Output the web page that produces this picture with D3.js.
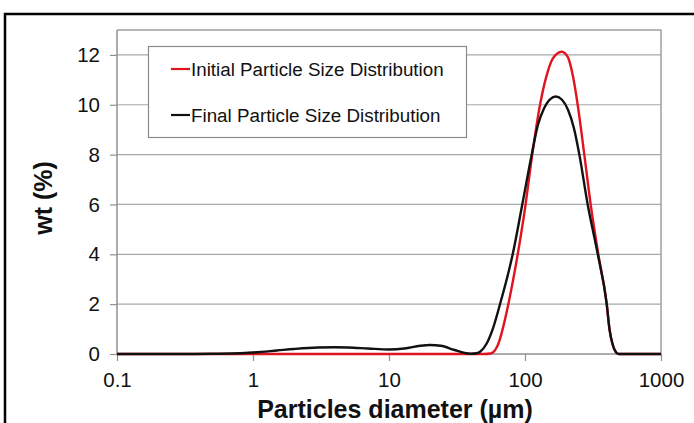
<!DOCTYPE html>
<html><head><meta charset="utf-8">
<script src="https://cdn.jsdelivr.net/npm/d3@7"></script>
<style>body{margin:0;background:#fff}svg{display:block}</style>
</head><body>
<svg id="c" width="694" height="423"></svg>
<script>
const xTicks = [0.1, 1, 10, 100, 1000];
const xTickLabels = ["0.1", "1", "10", "100", "1000"];
const yTicks = [0, 2, 4, 6, 8, 10, 12];
const seriesNames = ["Initial Particle Size Distribution", "Final Particle Size Distribution"];
const initialD = [0.1, 1, 10, 50, 56, 61, 65, 68.5, 75.4, 88.4, 101, 113, 129, 143, 160, 186, 207, 226, 244, 273, 304, 346, 399, 418, 440, 465, 490, 1000];
const initialWt = [0, 0, 0, 0, 0.02, 0.2, 0.55, 1, 2, 4, 6, 8, 10, 11.1, 11.85, 12.13, 11.9, 11.1, 10, 8, 6, 4, 2, 1, 0.4, 0.08, 0, 0];
const finalD = [0.1, 0.3, 0.5, 0.8, 1, 1.5, 2, 3, 4, 5, 7, 10, 13, 17, 20, 24, 30, 36, 40, 44, 47, 52, 57.9, 65.5, 81.2, 95.5, 112, 124.6, 137.9, 152.7, 169, 187.1, 207.1, 229.2, 251, 289, 343, 399, 418, 440, 465, 490, 1000];
const finalWt = [0, 0, 0.01, 0.03, 0.06, 0.14, 0.2, 0.26, 0.27, 0.26, 0.22, 0.18, 0.22, 0.33, 0.36, 0.33, 0.17, 0.04, 0.01, 0.03, 0.1, 0.4, 1, 2, 4, 6, 8, 9.2, 9.85, 10.22, 10.33, 10.2, 9.8, 9.05, 8, 6, 4, 2, 1, 0.4, 0.08, 0, 0];

const svg = d3.select("#c");
const L = 117, R = 661, T = 30, B = 354;
const x = d3.scaleLog().domain([0.1, 1000]).range([L, R]);
const y = d3.scaleLinear().domain([0, 13]).range([B, T]);
const font = "Arial, 'Liberation Sans', sans-serif";

// outer frame
svg.append("rect").attr("x", 5).attr("y", 14).attr("width", 700).attr("height", 430)
  .attr("fill", "none").attr("stroke", "#000").attr("stroke-width", 2.5);

// gridlines
svg.append("g").selectAll("line").data(yTicks.filter(d => d > 0)).join("line")
  .attr("x1", L).attr("x2", R).attr("y1", d => y(d)).attr("y2", d => y(d))
  .attr("stroke", "#a8a8a8").attr("stroke-width", 1.2);

// plot border (top, right)
svg.append("path").attr("d", `M${L},${T}H${R}V${B}`).attr("fill", "none")
  .attr("stroke", "#a0a0a0").attr("stroke-width", 1.5);

// y axis
const yAxis = svg.append("g").attr("transform", `translate(${L},0)`)
  .call(d3.axisLeft(y).tickValues(yTicks).tickSize(7).tickPadding(10).tickFormat(d3.format("d")));
yAxis.select(".domain").attr("d", `M0,${T}V${B}`).attr("stroke", "#909090").attr("stroke-width", 1.5);
yAxis.selectAll(".tick line").attr("stroke", "#909090").attr("stroke-width", 1.2);
yAxis.selectAll("text").attr("font-family", font).attr("font-size", 20.5).attr("fill", "#111");

// x axis
const xAxis = svg.append("g").attr("transform", `translate(0,${B})`)
  .call(d3.axisBottom(x).tickValues(xTicks).tickSize(7).tickPadding(11)
    .tickFormat((d, i) => xTickLabels[i]));
xAxis.select(".domain").attr("d", `M${L},0H${R}`).attr("stroke", "#909090").attr("stroke-width", 1.5);
xAxis.selectAll(".tick line").attr("stroke", "#909090").attr("stroke-width", 1.2);
xAxis.selectAll("text").attr("font-family", font).attr("font-size", 20.5).attr("fill", "#111");

// curves
const line = d3.line().x(d => x(d[0])).y(d => y(d[1])).curve(d3.curveMonotoneX);
const initData = initialD.map((d, i) => [d, initialWt[i]]);
const finalData = finalD.map((d, i) => [d, finalWt[i]]);
svg.append("path").datum(initData).attr("d", line).attr("fill", "none")
  .attr("stroke", "#e0141e").attr("stroke-width", 2.4);
svg.append("path").datum(finalData).attr("d", line).attr("fill", "none")
  .attr("stroke", "#111").attr("stroke-width", 2.4);

// legend
const lg = svg.append("g");
lg.append("rect").attr("x", 148.5).attr("y", 46.5).attr("width", 318).attr("height", 91)
  .attr("fill", "#fff").attr("stroke", "#8a8a8a").attr("stroke-width", 1.2);
const colors = ["#e0141e", "#111"];
const ly = [69, 115];
seriesNames.forEach((n, i) => {
  lg.append("line").attr("x1", 171).attr("x2", 190).attr("y1", ly[i]).attr("y2", ly[i])
    .attr("stroke", colors[i]).attr("stroke-width", 2.2);
  lg.append("text").attr("x", 191).attr("y", ly[i] + 7).text(n)
    .attr("font-family", font).attr("font-size", 18.8).attr("fill", "#111");
});

// axis titles
svg.append("text").attr("x", 395).attr("y", 418).attr("text-anchor", "middle")
  .attr("font-family", font).attr("font-weight", "bold").attr("font-size", 25)
  .attr("fill", "#111").text("Particles diameter (µm)");
svg.append("text").attr("transform", "translate(52,198) rotate(-90)").attr("text-anchor", "middle")
  .attr("font-family", font).attr("font-weight", "bold").attr("font-size", 25)
  .attr("fill", "#111").text("wt (%)");
</script>
</body></html>
